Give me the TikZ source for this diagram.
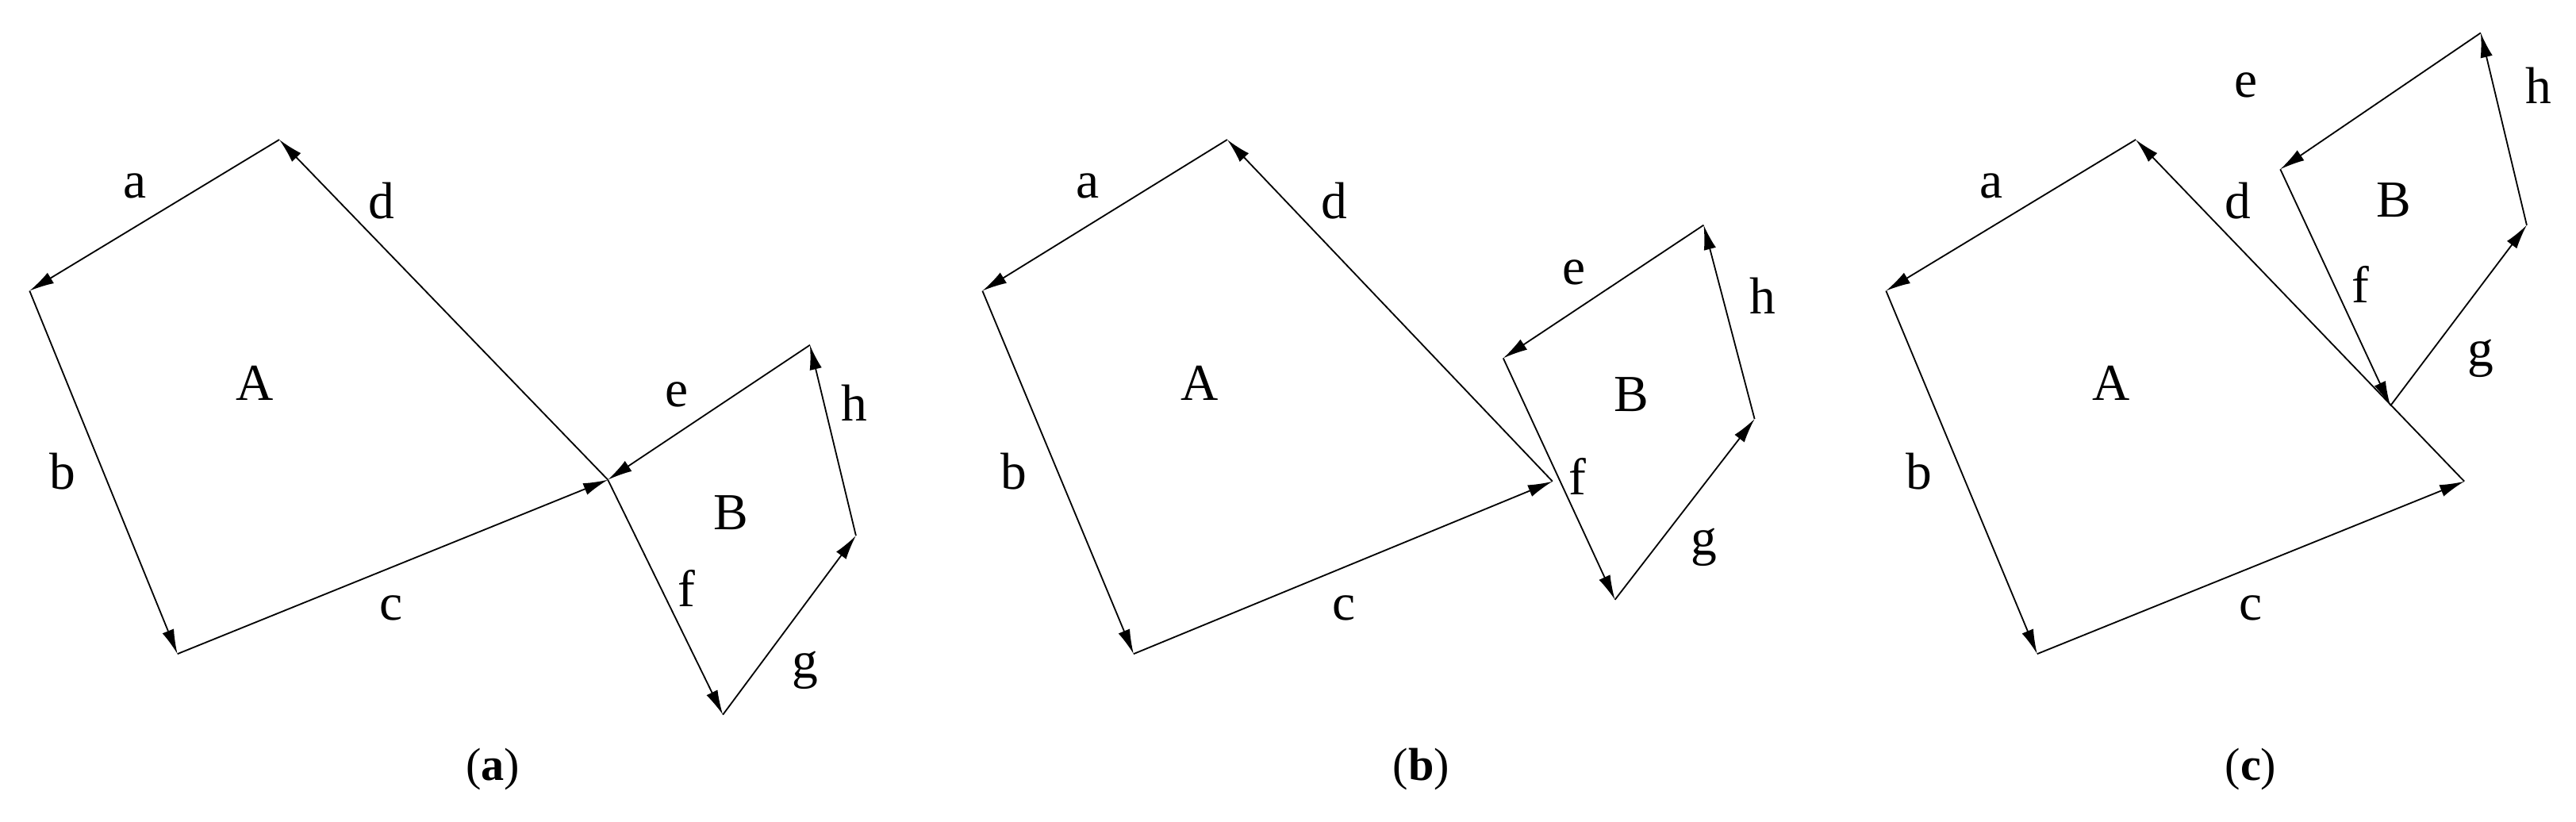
\documentclass[tikz,border=0pt]{standalone}
\usepackage{fontspec}
\setmainfont{Liberation Serif}
\usetikzlibrary{arrows.meta}
\begin{document}
\begin{tikzpicture}[x=0.02cm,y=-0.02cm,
  vec/.style={line width=0.5pt,-{Latex[length=3mm,width=1.5mm]}},
  lab/.style={font=\fontsize{18}{18}\selectfont,inner sep=0pt},
  captext/.style={font=\fontsize{16}{16}\selectfont,inner sep=0pt}]
\useasboundingbox (0,0) rectangle (1568,500);
% panel a
\coordinate (aT) at (170,85); \coordinate (aL) at (18,177); \coordinate (aB) at (108,398); \coordinate (aX) at (370,292);
\coordinate (aE) at (493,210); \coordinate (aH) at (521,326); \coordinate (aG) at (440,435);
\draw[vec] (aT) -- (aL);
\draw[vec] (aL) -- (aB);
\draw[vec] (aB) -- (aX);
\draw[vec] (aX) -- (aT);
\draw[vec] (aE) -- (aX);
\draw[vec] (aX) -- (aG);
\draw[vec] (aG) -- (aH);
\draw[vec] (aH) -- (aE);
\node[lab] (la) at (82,113) {a}; \node[lab] (ld) at (232,122) {d};
\node[lab] (lA) at (155,233) {A}; \node[lab] (lb) at (38,287) {b};
\node[lab] (lc) at (238,370) {c}; \node[lab] (le) at (412,240) {e};
\node[lab] (lh) at (520,245) {h}; \node[lab] (lB) at (445,312) {B};
\node[lab] (lf) at (418,358) {f}; \node[lab] (lg) at (490,408) {g};
\node[captext] (ca) at (300,468) {(\textbf{a})};
% panel b
\coordinate (bT) at (747,85); \coordinate (bL) at (598,177); \coordinate (bB) at (690,398); \coordinate (bX) at (945,293);
\coordinate (bE) at (1037,137); \coordinate (bF) at (915,218); \coordinate (bG) at (983,365); \coordinate (bH) at (1068,255);
\draw[vec] (bT) -- (bL);
\draw[vec] (bL) -- (bB);
\draw[vec] (bB) -- (bX);
\draw[vec] (bX) -- (bT);
\draw[vec] (bE) -- (bF);
\draw[vec] (bF) -- (bG);
\draw[vec] (bG) -- (bH);
\draw[vec] (bH) -- (bE);
\node[lab] (ma) at (662,113) {a}; \node[lab] (md) at (812,122) {d};
\node[lab] (mA) at (730,233) {A}; \node[lab] (mb) at (617,287) {b};
\node[lab] (mc) at (818,370) {c}; \node[lab] (me) at (958,166) {e};
\node[lab] (mh) at (1073,180) {h}; \node[lab] (mB) at (993,240) {B};
\node[lab] (mf) at (960,290) {f}; \node[lab] (mg) at (1037,333) {g};
\node[captext] (cb) at (865,468) {(\textbf{b})};
% panel c
\coordinate (cT) at (1300,85); \coordinate (cL) at (1148,177); \coordinate (cB) at (1240,398); \coordinate (cR) at (1500,293);
\coordinate (cE) at (1510,20); \coordinate (cF) at (1388,103); \coordinate (cG) at (1455,247); \coordinate (cH) at (1538,137);
\draw[vec] (cT) -- (cL);
\draw[vec] (cL) -- (cB);
\draw[vec] (cB) -- (cR);
\draw[vec] (cR) -- (cT);
\draw[vec] (cE) -- (cF);
\draw[vec] (cF) -- (cG);
\draw[vec] (cG) -- (cH);
\draw[vec] (cH) -- (cE);
\node[lab] (na) at (1212,113) {a}; \node[lab] (nd) at (1362,122) {d};
\node[lab] (nA) at (1285,233) {A}; \node[lab] (nb) at (1168,287) {b};
\node[lab] (nc) at (1370,370) {c}; \node[lab] (ne) at (1367,52) {e};
\node[lab] (nh) at (1545,52) {h}; \node[lab] (nB) at (1457,122) {B};
\node[lab] (nf) at (1437,173) {f}; \node[lab] (ng) at (1510,218) {g};
\node[captext] (cc) at (1370,468) {(\textbf{c})};
\end{tikzpicture}
\end{document}
